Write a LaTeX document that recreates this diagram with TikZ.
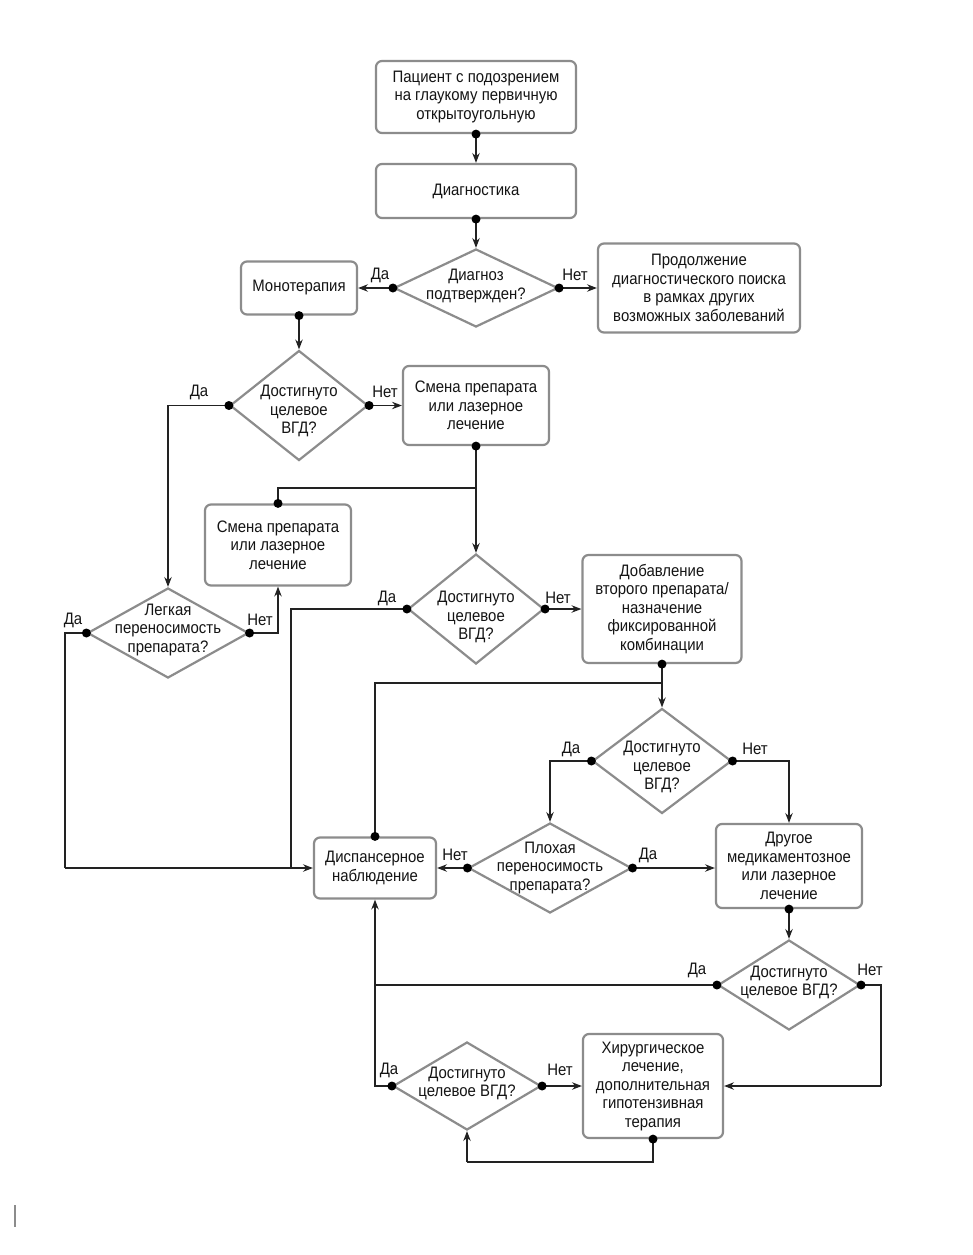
\documentclass[tikz,border=0pt]{standalone}
\usepackage{fontspec}
\setmainfont[FakeStretch=0.9]{Liberation Sans}
\usetikzlibrary{shapes.geometric,arrows.meta}
\definecolor{boxgray}{HTML}{8C8C8C}
\definecolor{linecol}{HTML}{222222}
\definecolor{txtcol}{HTML}{141414}
\newcommand{\fsz}{\fontsize{16.6}{18.5}\selectfont}
\begin{document}
\begin{tikzpicture}[x=1pt,y=-1pt,
  box/.style={draw=boxgray, line width=2.2pt, rounded corners=6pt, fill=white, align=center, inner sep=0pt, font=\fsz, text=txtcol},
  dmd/.style={draw=boxgray, line width=2.2pt, diamond, inner sep=0pt, fill=white},
  dtext/.style={align=center, font=\fsz, inner sep=0pt, text=txtcol},
  lbl/.style={font=\fsz, inner sep=0pt, text=txtcol},
  conn/.style={draw=linecol, line width=1.4pt},
  arr/.style={conn, -{Stealth[length=10pt,width=7.5pt,inset=3.5pt]}},
  dotc/.style={fill=black}
]
\useasboundingbox (0,0) rectangle (972,1255);
\fill[white] (0,0) rectangle (972,1255);

% boxes
\node[box, minimum width=200pt, minimum height=72pt] (p1) at (476,97) {Пациент с подозрением\\на глаукому первичную\\открытоугольную};
\node[box, minimum width=200pt, minimum height=54pt] (diag) at (476,191) {Диагностика};
\node[box, minimum width=116pt, minimum height=53pt] (mono) at (299,288) {Монотерапия};
\node[box, minimum width=202pt, minimum height=89pt] (cont) at (699,288) {Продолжение\\диагностического поиска\\в рамках других\\возможных заболеваний};
\node[box, minimum width=146pt, minimum height=79pt] (sm1) at (476,405.5) {Смена препарата\\или лазерное\\лечение};
\node[box, minimum width=146pt, minimum height=81pt] (sm2) at (278,545) {Смена препарата\\или лазерное\\лечение};
\node[box, minimum width=159pt, minimum height=108pt] (dob) at (662,609) {Добавление\\второго препарата/\\назначение\\фиксированной\\комбинации};
\node[box, minimum width=122pt, minimum height=61pt] (disp) at (375,868) {Диспансерное\\наблюдение};
\node[box, minimum width=146pt, minimum height=84pt] (drug) at (789,866) {Другое\\медикаментозное\\или лазерное\\лечение};
\node[box, minimum width=140pt, minimum height=104pt] (hir) at (653,1086) {Хирургическое\\лечение,\\дополнительная\\гипотензивная\\терапия};

% diamonds
\node[dmd, minimum width=164pt, minimum height=78pt] (q1) at (476,288) {};
\node[dtext] (q1t) at (476,286) {Диагноз\\подтвержден?};
\node[dmd, minimum width=138pt, minimum height=110pt] (q2) at (299,405.5) {};
\node[dtext] (q2t) at (299,411) {Достигнуто\\целевое\\ВГД?};
\node[dmd, minimum width=161pt, minimum height=90pt] (q4) at (168,633) {};
\node[dtext] (q4t) at (168,630) {Легкая\\переносимость\\препарата?};
\node[dmd, minimum width=136pt, minimum height=110pt] (q3) at (476,609) {};
\node[dtext] (q3t) at (476,617) {Достигнуто\\целевое\\ВГД?};
\node[dmd, minimum width=139pt, minimum height=105pt] (q5) at (662,761) {};
\node[dtext] (q5t) at (662,767) {Достигнуто\\целевое\\ВГД?};
\node[dmd, minimum width=163pt, minimum height=90pt] (plox) at (550,868) {};
\node[dtext] (ploxt) at (550,868) {Плохая\\переносимость\\препарата?};
\node[dmd, minimum width=142pt, minimum height=90pt] (q5b) at (789,985) {};
\node[dtext] (q5bt) at (789,982.5) {Достигнуто\\целевое ВГД?};
\node[dmd, minimum width=148pt, minimum height=88pt] (q6) at (467,1086) {};
\node[dtext] (q6t) at (467,1083.5) {Достигнуто\\целевое ВГД?};

% helper coordinates
\coordinate (br1) at (476,488);
\coordinate (br2) at (662,683);
\coordinate (c1) at (65,868);
\coordinate (c2) at (291,868);
\coordinate (c3) at (881,1086);
\coordinate (c4) at (467,1162);

% connectors
\draw[arr] (p1.south) -- (diag.north);
\draw[arr] (diag.south) -- (q1.north);
\draw[arr] (q1.west) -- (mono.east);
\draw[arr] (q1.east) -- (cont.west);
\draw[arr] (mono.south) -- (q2.north);
\draw[arr] (q2.west) -| (q4.north);
\draw[arr] (q2.east) -- (sm1.west);
\draw[arr] (sm1.south) -- (q3.north);
\draw[conn] (br1) -| (sm2.north);
\draw[arr] (q4.east) -| (sm2.south);
\draw[conn] (q4.west) -| (c1);
\draw[arr] (c1) -- (disp.west);
\draw[conn] (q3.west) -| (c2);
\draw[arr] (q3.east) -- (dob.west);
\draw[arr] (dob.south) -- (q5.north);
\draw[conn] (br2) -| (disp.north);
\draw[arr] (q5.west) -| (plox.north);
\draw[arr] (q5.east) -| (drug.north);
\draw[arr] (plox.west) -- (disp.east);
\draw[arr] (plox.east) -- (plox.east -| drug.west);
\draw[arr] (drug.south) -- (q5b.north);
\draw[conn] (q5b.west) -- (q5b.west -| disp.south);
\draw[conn] (q5b.east) -| (c3);
\draw[arr] (c3) -- (hir.east);
\draw[arr] (q6.west) -| (disp.south);
\draw[arr] (q6.east) -- (hir.west);
\draw[conn] (hir.south) |- (c4);
\draw[arr] (c4) -- (q6.south);

% dots
\foreach \p in {p1.south, diag.south, q1.west, q1.east, mono.south, q2.west, q2.east,
  sm1.south, sm2.north, q4.east, q4.west, q3.west, q3.east, dob.south, disp.north,
  q5.west, q5.east, plox.west, plox.east, drug.south, q5b.west, q5b.east,
  q6.west, q6.east, hir.south}
  \fill[dotc] (\p) circle (4.5pt);

% labels
\node[lbl] (l1) at (380,275) {Да};
\node[lbl] (l2) at (575,275) {Нет};
\node[lbl] (l3) at (199,392) {Да};
\node[lbl] (l4) at (385,392) {Нет};
\node[lbl] (l5) at (73,620) {Да};
\node[lbl] (l6) at (260,620) {Нет};
\node[lbl] (l7) at (387,598) {Да};
\node[lbl] (l8) at (558,598) {Нет};
\node[lbl] (l9) at (571,749) {Да};
\node[lbl] (l10) at (755,749) {Нет};
\node[lbl] (l11) at (455,855) {Нет};
\node[lbl] (l12) at (648,855) {Да};
\node[lbl] (l13) at (697,970) {Да};
\node[lbl] (l14) at (870,970) {Нет};
\node[lbl] (l15) at (389,1070) {Да};
\node[lbl] (l16) at (560,1070) {Нет};

% page mark
\draw[boxgray, line width=2.5pt] (15,1205) -- (15,1227);
\end{tikzpicture}
\end{document}
